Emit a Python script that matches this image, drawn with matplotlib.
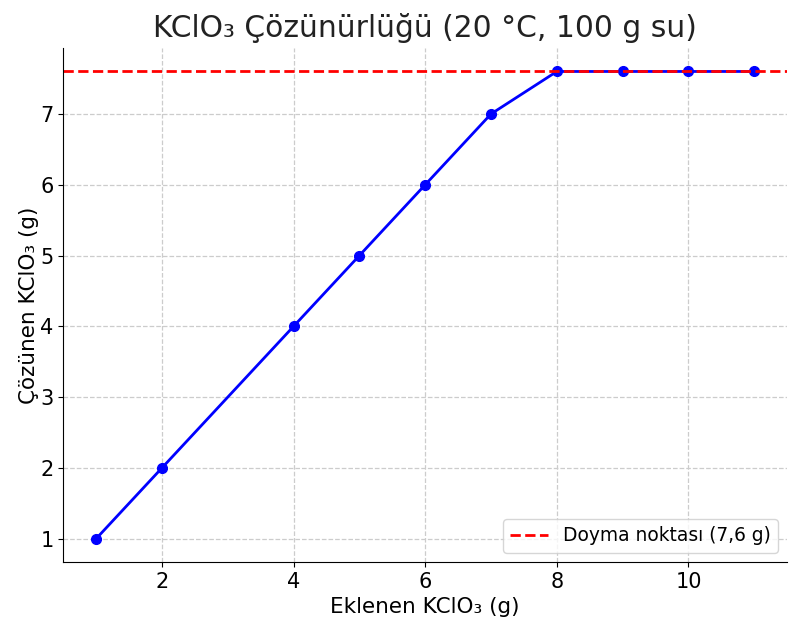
import matplotlib
matplotlib.use("Agg")
import matplotlib.pyplot as plt

added = [1, 2, 4, 5, 6, 7, 8, 9, 10, 11]
dissolved = [1, 2, 4, 5, 6, 7, 7.6, 7.6, 7.6, 7.6]
saturation = 7.6
title = "KClO₃ Çözünürlüğü (20 °C, 100 g su)"
xlabel = "Eklenen KClO₃ (g)"
ylabel = "Çözünen KClO₃ (g)"
legend_label = "Doyma noktası (7,6 g)"

fig = plt.figure(figsize=(8, 6.33), dpi=100)
ax = fig.add_axes([0.079, 0.112, 0.905, 0.812])
ax.plot(added, dissolved, color="blue", marker="o", linewidth=2, markersize=7)
ax.axhline(saturation, color="red", linestyle="--", linewidth=2, label=legend_label)
ax.set_title(title, fontsize=21.4, pad=8, color="#222222")
ax.set_xlabel(xlabel, fontsize=15.5, labelpad=4)
ax.set_ylabel(ylabel, fontsize=15.5, labelpad=1)
ax.tick_params(labelsize=15)
ax.grid(True, linestyle="--", color="#cccccc", linewidth=0.9)
ax.set_axisbelow(True)
for s in ["top", "right"]:
    ax.spines[s].set_visible(False)
ax.legend(loc="lower right", fontsize=13.4)
fig.savefig("out.png", dpi=100)
